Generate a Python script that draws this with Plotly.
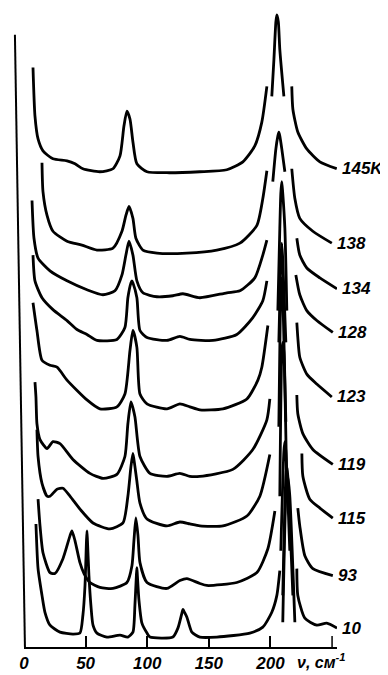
import plotly.graph_objects as go

# Raman spectra at several temperatures (stacked), wavenumber in cm^-1, intensity in arbitrary (stacked) units
temps = ["145K", "138", "134", "128", "123", "119", "115", "93", "10"]

wn_145 = [7.3, 8.9, 11.4, 15.4, 23.5, 34.9, 41.4, 47.8, 61.6, 72.2, 77.9, 81.1, 83.5, 86.0, 88.4, 91.6, 99.8, 116.0, 142.7, 164.6, 177.6, 187.3, 193.0, 197.1,
          None, 201.1, 202.8, 204.4, 205.2, 206.4, 207.6, 210.9,
          None, 217.3, 218.2, 222.2, 229.5, 240.1, 253.8]
int_145 = [584, 535, 512, 500, 492, 490, 487, 482, 479, 482, 495, 525, 540, 532, 509, 487, 479, 478, 479, 481, 489, 505, 529, 565,
           None, 555, 592, 630, 637, 630, 602, 555,
           None, 565, 542, 519, 502, 489, 482]

wn_138 = [14.6, 15.4, 18.7, 23.5, 34.9, 47.0, 59.2, 72.2, 79.5, 82.7, 85.2, 88.4, 90.8, 96.5, 107.9, 132.2, 156.5, 175.2, 189.0, 193.8, 197.1,
          None, 201.9, 204.4, 206.0, 206.8, 207.6, 209.2, 211.7,
          None, 217.3, 219.8, 223.8, 234.4, 249.8]
int_138 = [488, 459, 435, 419, 409, 405, 400, 402, 419, 435, 444, 432, 412, 400, 397, 397, 400, 407, 425, 452, 480,
           None, 469, 502, 515, 519, 515, 502, 479,
           None, 482, 452, 432, 419, 407]

wn_134 = [6.5, 8.1, 11.4, 21.1, 34.9, 51.1, 64.1, 73.8, 79.5, 82.7, 85.2, 88.4, 91.6, 96.5, 107.9, 120.8, 129.0, 142.7, 164.6, 175.2, 187.3, 193.8, 197.1,
          None, 206.0, 207.6, 208.4, 209.2, 210.0, 211.7, 213.3,
          None, 221.4, 223.8, 229.5, 240.1, 254.0]
int_134 = [450, 412, 392, 379, 369, 360, 355, 359, 375, 395, 409, 395, 369, 357, 353, 354, 356, 352, 357, 359, 372, 395, 410,
           None, 339, 422, 457, 469, 457, 422, 339,
           None, 412, 395, 382, 372, 361]

wn_128 = [7.3, 8.9, 14.6, 23.5, 34.9, 43.0, 51.1, 59.2, 75.4, 81.9, 84.3, 86.8, 87.6, 88.4, 91.6, 94.1, 99.8, 116.0, 126.5, 134.6, 153.3, 172.7, 185.7, 193.8, 197.1,
          None, 206.8, 208.4, 209.2, 210.0, 212.5,
          None, 220.6, 223.8, 229.5, 237.6, 250.6]
int_128 = [395, 369, 352, 340, 329, 320, 315, 309, 310, 322, 352, 367, 369, 367, 352, 319, 312, 309, 313, 310, 309, 315, 332, 349, 369,
           None, 307, 390, 407, 390, 307,
           None, 375, 355, 339, 329, 317]

wn_123 = [7.3, 10.5, 14.6, 21.1, 26.8, 34.9, 51.1, 61.6, 75.4, 81.9, 86.0, 88.4, 91.6, 94.1, 99.8, 116.0, 126.5, 134.6, 142.7, 161.4, 180.9, 189.8, 193.0, 197.9,
          None, 206.8, 208.4, 209.2, 210.0, 212.5,
          None, 221.4, 222.2, 223.8, 229.5, 237.6, 249.8]
int_123 = [347, 319, 289, 284, 282, 269, 249, 240, 242, 255, 299, 319, 302, 255, 245, 240, 245, 242, 239, 240, 250, 269, 282, 324,
           None, 222, 357, 372, 357, 227,
           None, 327, 312, 292, 275, 265, 252]

wn_119 = [8.9, 9.7, 10.5, 13.0, 18.7, 23.5, 29.2, 39.7, 53.5, 64.1, 75.4, 81.9, 84.3, 86.8, 90.0, 94.1, 102.2, 116.0, 126.5, 134.6, 142.7, 169.5, 185.7, 197.1, 199.5,
          None, 207.6, 209.2, 210.0, 210.9, 213.3,
          None, 221.4, 222.2, 226.3, 234.4, 250.6]
int_119 = [267, 252, 225, 209, 200, 207, 205, 189, 175, 170, 174, 192, 225, 247, 232, 192, 175, 172, 175, 172, 172, 179, 199, 229, 250,
           None, 152, 297, 307, 297, 157,
           None, 254, 235, 215, 199, 184]

wn_115 = [10.5, 11.4, 14.6, 18.7, 21.1, 26.8, 31.6, 37.3, 45.4, 56.0, 69.7, 80.3, 84.3, 86.8, 88.4, 90.0, 91.6, 94.1, 99.8, 116.0, 126.5, 134.6, 142.7, 161.4, 180.9, 191.4, 199.5,
          None, 208.4, 210.9, 211.7, 212.5, 215.7,
          None, 225.5, 226.3, 231.9, 240.1, 250.6]
int_115 = [219, 192, 165, 152, 152, 159, 160, 152, 139, 125, 119, 125, 152, 182, 195, 182, 167, 145, 129, 122, 126, 124, 122, 122, 132, 152, 194,
           None, 97, 197, 207, 197, 97,
           None, 195, 172, 149, 140, 130]

wn_93 = [11.4, 13.0, 15.4, 21.1, 25.1, 31.6, 37.3, 38.9, 41.4, 45.4, 48.7, 53.5, 61.6, 72.2, 83.5, 87.6, 89.2, 90.8, 92.5, 94.1, 99.8, 116.0, 126.5, 132.2, 142.7, 148.4, 172.7, 189.0, 197.9, 203.6,
         None, 210.0, 212.5, 213.3, 214.1, 218.2,
         None, 222.2, 223.8, 227.9, 234.4, 250.6]
int_93 = [149, 122, 95, 75, 74, 89, 112, 117, 107, 85, 74, 65, 60, 59, 65, 82, 107, 130, 112, 85, 65, 59, 67, 69, 64, 62, 65, 75, 99, 137,
          None, 52, 172, 182, 172, 52,
          None, 140, 122, 92, 79, 72]

wn_10 = [9.7, 11.4, 14.6, 17.0, 21.1, 29.2, 39.7, 45.4, 47.8, 49.5, 50.7, 51.1, 51.5, 52.7, 54.3, 56.0, 59.2, 67.3, 77.9, 84.3, 88.4, 90.0, 91.2, 91.6, 92.0, 93.3, 95.7, 99.8, 102.2, 120.8, 124.9, 128.1, 129.0, 129.8, 132.2, 136.2, 142.7, 156.5, 183.3, 193.8, 201.1, 205.2, 207.6,
         None, 210.0, 212.5, 214.1, 215.7, 219.8,
         None, 221.4, 222.2, 227.9, 237.6, 245.7, 254.0]
int_10 = [124, 79, 52, 35, 22, 15, 13, 14, 32, 62, 107, 117, 107, 72, 42, 22, 14, 10, 12, 10, 15, 42, 72, 80, 72, 47, 24, 14, 10, 10, 19, 34, 38, 36, 30, 15, 10, 10, 14, 20, 35, 52, 77,
          None, 25, 152, 172, 152, 25,
          None, 79, 52, 29, 22, 24, 19]

tick_vals = [0, 50, 100, 150, 200]
tick_text = ["0", "50", "100", "150", "200"]
extra_tick = 250
axis_title = "<i>ν</i>, см<sup>-1</sup>"

wn_lists = [wn_145, wn_138, wn_134, wn_128, wn_123, wn_119, wn_115, wn_93, wn_10]
int_lists = [int_145, int_138, int_134, int_128, int_123, int_119, int_115, int_93, int_10]

FONT = "Liberation Sans Narrow, Liberation Sans, Arial, sans-serif"

fig = go.Figure()
annotations = []
for label, xs, ys in zip(temps, wn_lists, int_lists):
    fig.add_trace(go.Scatter(
        x=xs, y=ys, mode="lines", connectgaps=False,
        line=dict(color="black", width=2.8, shape="spline", smoothing=0.6),
        showlegend=False, hoverinfo="skip"))
    lx, ly = xs[-1], ys[-1]
    annotations.append(dict(
        x=lx, y=ly, xref="x", yref="y", text=label, showarrow=False,
        xanchor="left", yanchor="middle", xshift=3,
        font=dict(family=FONT, size=17, color="black", style="italic", weight="bold")))

annotations.append(dict(
    x=241, y=0, xref="x", yref="paper", text=axis_title, showarrow=False,
    xanchor="center", yanchor="top", yshift=-2,
    font=dict(family=FONT, size=16, color="black", style="italic", weight="bold")))

# the page body adds an 8 px offset, so the figure is 8 px smaller than the window
fig.update_layout(
    width=380, height=667,
    margin=dict(l=16, r=51, t=2, b=23),
    paper_bgcolor="white", plot_bgcolor="white",
    annotations=annotations,
    shapes=[dict(type="line", xref="paper", yref="paper",
                 x0=0.003, y0=0.0, x1=-0.029, y1=0.961,
                 line=dict(color="black", width=2)),
            dict(type="line", xref="x", yref="paper",
                 x0=extra_tick, x1=extra_tick, y0=0.0, y1=11 / 642,
                 line=dict(color="black", width=1.5))],
)
fig.update_xaxes(
    range=[0, 254], showline=True, linecolor="black", linewidth=2,
    ticks="inside", ticklen=11, tickwidth=1.5, tickcolor="black",
    tickvals=tick_vals, ticktext=tick_text,
    tickfont=dict(family=FONT, size=17, color="black", style="italic", weight="bold"),
    showgrid=False, zeroline=False, mirror=False)
fig.update_yaxes(range=[0, 642], visible=False, showgrid=False, zeroline=False)

fig.write_html("out.html")
